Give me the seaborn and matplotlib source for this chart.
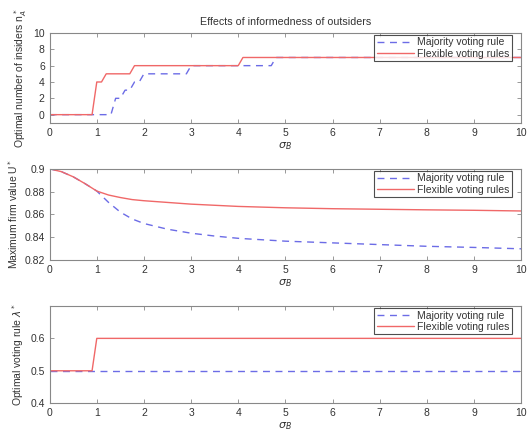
import numpy as np
import pandas as pd
import matplotlib
matplotlib.use("Agg")
import matplotlib.pyplot as plt
import seaborn as sns

# ---- data ----
# Panel 1: optimal number of insiders
n_sigma_maj = [0, 1.3, 1.4, 1.5, 1.6, 1.7, 1.8, 1.9, 2.0, 2.9, 3.0, 4.7, 4.8, 10]
n_maj = [0, 0, 2, 2, 3, 3, 4, 4, 5, 5, 6, 6, 7, 7]
n_sigma_flex = [0, 0.9, 1.0, 1.1, 1.2, 1.7, 1.8, 4.0, 4.1, 10]
n_flex = [0, 0, 4, 4, 5, 5, 6, 6, 7, 7]

# Panel 2: maximum firm value
u_sigma = [0, 0.25, 0.5, 0.75, 1.0, 1.25, 1.5, 1.75, 2.0, 2.5, 3.0, 3.5, 4.0, 5.0, 6.0, 7.0, 8.0, 9.0, 10.0]
u_maj = [0.9, 0.8975, 0.893, 0.887, 0.8805, 0.8705, 0.862, 0.856, 0.852, 0.847, 0.8435, 0.841, 0.839,
         0.8365, 0.835, 0.8335, 0.832, 0.831, 0.8298]
u_flex = [0.9, 0.8975, 0.893, 0.887, 0.8805, 0.877, 0.8748, 0.873, 0.872, 0.8705, 0.869, 0.868, 0.867,
          0.8658, 0.865, 0.8645, 0.864, 0.8636, 0.863]

# Panel 3: optimal voting rule
l_sigma_maj = [0, 10]
l_maj = [0.5, 0.5]
l_sigma_flex = [0, 0.9, 1.0, 10]
l_flex = [0.5, 0.5, 0.6, 0.6]

title = "Effects of informedness of outsiders"
labels = ["Majority voting rule", "Flexible voting rules"]
ylabels = [r"Optimal number of insiders n$_A^*$", r"Maximum firm value U$^*$", r"Optimal voting rule $\lambda^*$"]
xlabel = r"$\sigma_B$"

sns.set_style("ticks")
plt.rcParams["font.family"] = ["Liberation Sans", "DejaVu Sans"]
plt.rcParams["mathtext.fontset"] = "dejavusans"

BLUE = "#6c6ce6"
RED = "#f06868"
TXT = "#333333"
SPINE = "#888888"

fig = plt.figure(figsize=(5.28, 4.34), dpi=100)
left, width = 0.094, 0.893
axs = [fig.add_axes([left, 0.717, width, 0.207]),
       fig.add_axes([left, 0.401, width, 0.210]),
       fig.add_axes([left, 0.071, width, 0.224])]

panels = [
    (n_sigma_maj, n_maj, n_sigma_flex, n_flex, (-1, 10), [0, 2, 4, 6, 8, 10]),
    (u_sigma, u_maj, u_sigma, u_flex, (0.82, 0.9), [0.82, 0.84, 0.86, 0.88, 0.9]),
    (l_sigma_maj, l_maj, l_sigma_flex, l_flex, (0.4, 0.7), [0.4, 0.5, 0.6]),
]

for i, (ax, (xm, ym, xf, yf, ylim, yt)) in enumerate(zip(axs, panels)):
    sns.lineplot(x=xm, y=ym, ax=ax, color=BLUE, linestyle=(0, (5, 4)), linewidth=1.0,
                 label=labels[0], sort=False)
    sns.lineplot(x=xf, y=yf, ax=ax, color=RED, linewidth=1.0, label=labels[1], sort=False)
    ax.set_xlim(0, 10)
    ax.set_ylim(*ylim)
    ax.set_xticks(range(0, 11))
    ax.set_yticks(yt)
    if i == 1:
        ax.set_yticklabels([("%.2f" % v).rstrip("0") for v in yt])
    elif i == 2:
        ax.set_yticklabels(["%.1f" % v for v in yt])
    ax.tick_params(direction="in", length=3, width=0.6, colors=SPINE, labelcolor=TXT,
                   labelsize=7.5, top=True, right=True, pad=3.5)
    for s in ax.spines.values():
        s.set_visible(True)
        s.set_color(SPINE)
        s.set_linewidth(0.8)
    ax.set_xlabel(xlabel, fontsize=8, color=TXT, labelpad=1.5)
    ax.set_ylabel(ylabels[i], fontsize=7.5, color=TXT, labelpad=3)
    leg = ax.legend(loc="upper right", bbox_to_anchor=(0.981, 0.98), fontsize=7.5,
                    frameon=True, fancybox=False, handlelength=3.6, borderaxespad=0,
                    borderpad=0.25, labelspacing=0.12, handletextpad=0.3)
    leg.get_frame().set_edgecolor("#222222")
    leg.get_frame().set_linewidth(0.8)
    for t in leg.get_texts():
        t.set_color(TXT)

axs[0].set_title(title, fontsize=7.7, color=TXT, pad=6)

fig.savefig("out.png", dpi=100)
